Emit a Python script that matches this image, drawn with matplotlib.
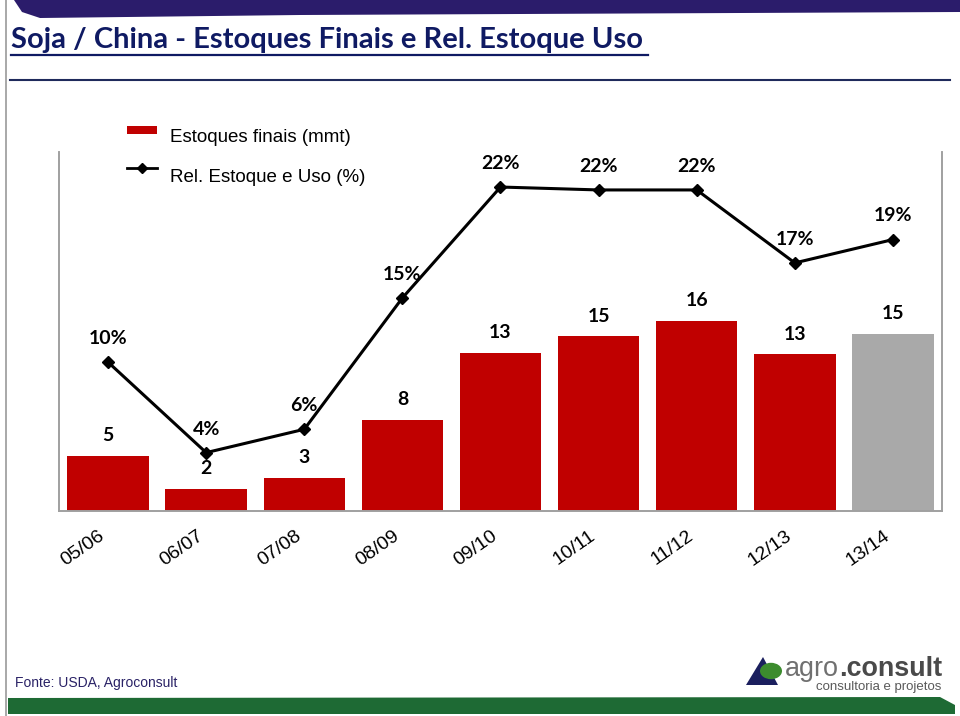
import matplotlib
matplotlib.use("Agg")
import matplotlib.pyplot as plt
from matplotlib.patches import Polygon, Rectangle, Circle
from matplotlib.lines import Line2D

# ---- data ----
categories = ["05/06", "06/07", "07/08", "08/09", "09/10", "10/11", "11/12", "12/13", "13/14"]
stocks = [4.6, 1.85, 2.75, 7.6, 13.2, 14.6, 15.9, 13.1, 14.8]      # Estoques finais (mmt)
ratio = [10.2, 4.0, 5.6, 14.6, 22.2, 22.0, 22.0, 17.0, 18.6]         # Rel. Estoque e Uso (%)
bar_colors = ["#C00000"] * 8 + ["#A9A9A9"]

W, H = 960, 716
fig = plt.figure(figsize=(W / 100, H / 100), dpi=100)

def fx(px):
    return px / W

def fy(py):
    return 1 - py / H

# ---- decoration ----
band = Polygon([(fx(14), fy(0)), (fx(960), fy(0)), (fx(960), fy(12)), (fx(300), fy(15)),
                (fx(40), fy(18)), (fx(22), fy(12))], closed=True,
               transform=fig.transFigure, facecolor="#2B1C6B", edgecolor="none")
fig.patches.append(band)
gband = Polygon([(fx(8), fy(698)), (fx(940), fy(697)), (fx(955), fy(705)), (fx(955), fy(714)),
                 (fx(8), fy(714))], closed=True, transform=fig.transFigure,
                facecolor="#1E6A34", edgecolor="none")
fig.patches.append(gband)
fig.add_artist(Line2D([fx(6), fx(6)], [fy(0), fy(716)], color="#9A9A9A", lw=1.2,
                      transform=fig.transFigure))
fig.add_artist(Line2D([fx(10), fx(950)], [fy(80), fy(80)], color="#1F2A5C", lw=1.5,
                      transform=fig.transFigure))

# title
title_family = ["Lato", "DejaVu Sans"]
fig.text(fx(11), fy(40), "Soja / China - Estoques Finais e Rel. Estoque Uso",
         fontsize=21, fontweight="bold", color="#0F1A63", family=title_family,
         va="center", ha="left")
fig.add_artist(Line2D([fx(11), fx(648)], [fy(55), fy(55)], color="#0F1A63", lw=1.6,
                      transform=fig.transFigure))

# source
fig.text(fx(15), fy(683), "Fonte: USDA, Agroconsult", fontsize=10, color="#2A2266",
         family="Liberation Sans", va="center", ha="left")

# logo
tri = Polygon([(fx(746), fy(685)), (fx(763), fy(657)), (fx(778), fy(685))], closed=True,
              transform=fig.transFigure, facecolor="#1B1F5E", edgecolor="none")
fig.patches.append(tri)
circ = Circle((fx(771), fy(671)), 11 / W, transform=fig.transFigure,
              facecolor="#3C8C2E", edgecolor="none")
fig.patches.append(circ)
t_consult = fig.text(fx(942), fy(669), ".consult", fontsize=19.4, fontweight="bold",
                     color="#4A4A4A", family="Liberation Sans", va="center", ha="right")
fig.add_artist(plt.Annotation("agro", xy=(0, 0.5), xycoords=t_consult, ha="right",
                              va="center", fontsize=19.4, color="#707070",
                              family="Liberation Sans"))
fig.text(fx(941), fy(687), "consultoria e projetos", fontsize=9.5, color="#5A5A5A",
         family="Liberation Sans", va="center", ha="right")

# ---- chart ----
ax = fig.add_axes([fx(59), fy(511), fx(942) - fx(59), (511 - 152) / H])
x = list(range(len(categories)))
ax.bar(x, stocks, width=0.83, color=bar_colors, zorder=2)
ax.set_xlim(-0.5, len(categories) - 0.5)
ax.set_ylim(0, 30)

label_font = ["Lato", "DejaVu Sans"]
for xi, v in zip(x, stocks):
    ax.annotate(f"{v:.0f}", (xi, v), xytext=(0, 14.5), textcoords="offset points",
                ha="center", va="center", fontsize=14, fontweight="bold",
                family=label_font, color="black")

ax.set_yticks([])
ax.set_xticks(x)
ax.set_xticklabels(categories, rotation=35, ha="right", va="top", fontsize=14,
                   family="Liberation Sans")
ax.tick_params(axis="x", length=0, pad=12)
ax.spines["top"].set_visible(False)
for s in ["left", "right", "bottom"]:
    ax.spines[s].set_color("#A0A0A0")
    ax.spines[s].set_linewidth(1.2)

ax2 = ax.twinx()
ax2.set_ylim(0, 24.6)
ax2.plot(x, ratio, color="black", lw=2.2, marker="D", markersize=6, zorder=3)
for xi, v in zip(x, ratio):
    ax2.annotate(f"{v:.0f}%", (xi, v), xytext=(0, 17), textcoords="offset points",
                 ha="center", va="center", fontsize=14, fontweight="bold",
                 family=label_font, color="black")
ax2.set_yticks([])
ax2.spines["top"].set_visible(False)
for s in ["left", "right", "bottom"]:
    ax2.spines[s].set_color("#A0A0A0")
    ax2.spines[s].set_linewidth(1.2)

# legend
fig.patches.append(Rectangle((fx(127), fy(134)), fx(157) - fx(127), 8 / H,
                             transform=fig.transFigure, facecolor="#C00000", edgecolor="none"))
fig.text(fx(170), fy(137), "Estoques finais (mmt)", fontsize=13.5, family="Liberation Sans",
         va="center", ha="left")
fig.add_artist(Line2D([fx(127), fx(157)], [fy(168), fy(168)], color="black", lw=2,
                      transform=fig.transFigure))
fig.add_artist(Line2D([fx(142)], [fy(168)], color="black", marker="D", markersize=5,
                      linestyle="none", transform=fig.transFigure))
fig.text(fx(170), fy(177), "Rel. Estoque e Uso (%)", fontsize=13.5, family="Liberation Sans",
         va="center", ha="left")

fig.savefig("out.png", dpi=100)
